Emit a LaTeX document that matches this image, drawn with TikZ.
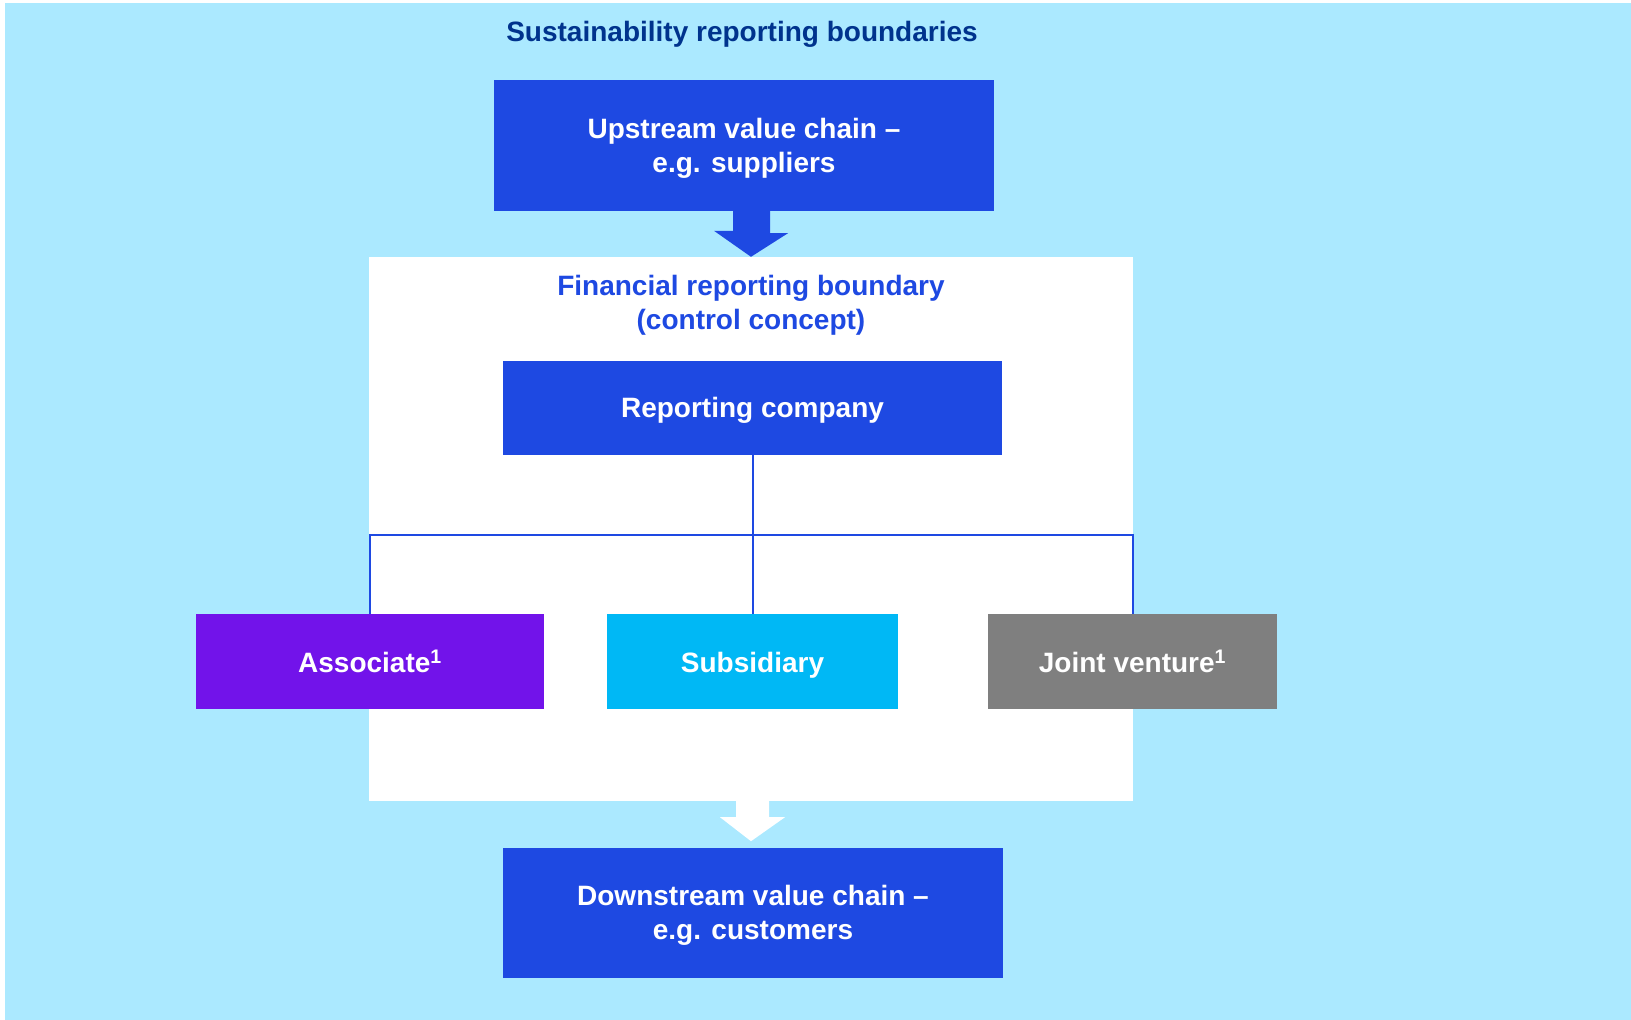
\documentclass[tikz,border=0pt]{standalone}
\usepackage{fontspec}
\setmainfont{Liberation Sans}
\usetikzlibrary{calc}
\definecolor{bgblue}{HTML}{ABE9FF}
\definecolor{kblue}{HTML}{1E49E2}
\definecolor{kdark}{HTML}{00338D}
\definecolor{kpurple}{HTML}{7213EA}
\definecolor{kcyan}{HTML}{00B8F5}
\definecolor{kgray}{HTML}{7F7F7F}
\tikzset{
  box/.style={rectangle, inner sep=0pt, text=white, align=center,
    font=\fontsize{28}{34}\selectfont\bfseries},
  onebox/.style={box, text height=22pt, text depth=0pt},
  link/.style={draw=kblue, line width=2pt},
}
\begin{document}
\begin{tikzpicture}[x=1pt,y=-1pt]
\useasboundingbox (0,0) rectangle (1631,1020);
\fill[bgblue] (5,3) rectangle (1631,1020);
\node[fill=white, minimum width=764pt, minimum height=544pt, inner sep=0pt] (fin) at (751,529) {};
\node[text=kdark, font=\fontsize{28}{34}\selectfont\bfseries] (title) at (742,34) {Sustainability reporting boundaries};
\node[box, fill=kblue, minimum width=500pt, minimum height=131pt, text depth=0pt] (up) at (744,145.5) {Upstream value chain –\\e.g. suppliers};
\node[text=kblue, align=center, font=\fontsize{28}{34}\selectfont\bfseries] (fintext) at (751,305) {Financial reporting boundary\\(control concept)};
\node[box, fill=kblue, minimum width=499pt, minimum height=94pt, text height=20pt, text depth=2pt] (rc) at (752.5,408) {Reporting company};
\node[onebox, fill=kpurple, minimum width=348pt, minimum height=95pt] (assoc) at (370,661.5) {Associate\textsuperscript{1}};
\node[onebox, fill=kcyan, minimum width=291pt, minimum height=95pt] (sub) at (752.5,661.5) {Subsidiary};
\node[onebox, fill=kgray, minimum width=289pt, minimum height=95pt] (jv) at (1132.5,661.5) {Joint venture\textsuperscript{1}};
\node[box, fill=kblue, minimum width=500pt, minimum height=130pt, text depth=2pt] (down) at (753,913) {Downstream value chain –\\e.g. customers};
% connectors
\draw[link] (rc.south) -- (sub.north);
\draw[link] (assoc.north) -- ++(0,-79) -| (jv.north);
% block arrows
\fill[kblue] ($(up.south)+(-10,0)$) -- ++(36,0) -- ++(0,22) -- ++(18,0) -- (fin.north) -- ++(-37,-26) -- ++(19,0) -- ++(0,-22) -- cycle;
\fill[white] ($(fin.south)+(-15,0)$) -- ++(33,0) -- ++(0,16) -- ++(16,0) -- ($(fin.south)+(0,40)$) -- ++(-31,-24) -- ++(16,0) -- cycle;
\end{tikzpicture}
\end{document}
